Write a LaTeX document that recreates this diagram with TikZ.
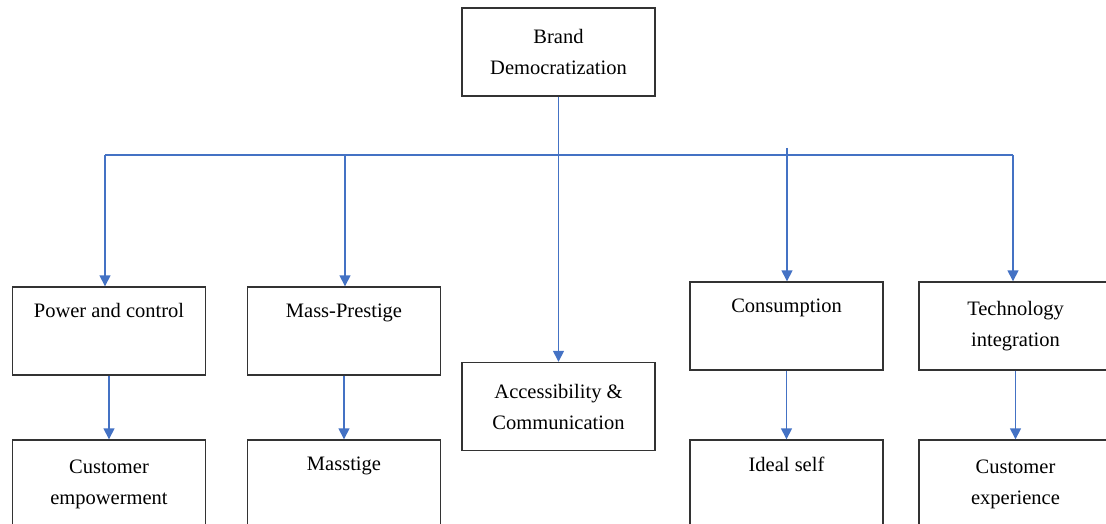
\documentclass[tikz,border=0pt]{standalone}
\usepackage{fontspec}
\setmainfont{Liberation Serif}
\usepackage{tikz}
\usetikzlibrary{arrows.meta}
\definecolor{linkblue}{RGB}{68,114,196}
\tikzset{box/.style={rectangle,draw=black!80,line width=1.4pt,minimum width=193pt,minimum height=88pt,inner sep=0pt,align=center,font=\fontsize{20.5}{31}\selectfont}}
\tikzset{link/.style={draw=linkblue,line width=1.5pt}}

\begin{document}
\begin{tikzpicture}[x=1pt,y=1pt,>={Triangle[width=11pt,length=11pt]}]
        \useasboundingbox (0,0) rectangle (1106,-524);
        \node[box] (bd) at (558.5,-52) {Brand\\Democratization};
        \node[box] (pc) at (109,-331) {Power and control\\\strut};
        \node[box] (mp) at (344,-331) {Mass-Prestige\\\strut};
        \node[box] (ac) at (558.5,-406.5) {Accessibility \&\\Communication};
        \node[box] (co) at (786.5,-326) {Consumption\\\strut};
        \node[box] (ti) at (1015.5,-326) {Technology\\integration};
        \node[box] (ce) at (109,-484) {Customer\\empowerment};
        \node[box] (ms) at (344,-484) {Masstige\\\strut};
        \node[box] (is) at (786.5,-484) {Ideal self\\\strut};
        \node[box] (cx) at (1015.5,-484) {Customer\\experience};

        \coordinate (busL) at (105,-155);
        \coordinate (busM) at (345,-155);
        \coordinate (busR) at (1013,-155);
        \coordinate (cotop) at (787,-148);

        \draw [link] (busL) -- (busR);
        \draw [link,->] (bd.south) -- (ac.north);
        \draw [link,->] (busL) -- (busL |- pc.north);
        \draw [link,->] (busM) -- (busM |- mp.north);
        \draw [link,->] (cotop) -- (cotop |- co.north);
        \draw [link,->] (busR) -- (busR |- ti.north);
        \draw [link,->] (pc.south) -- (ce.north);
        \draw [link,->] (mp.south) -- (ms.north);
        \draw [link,->] (co.south) -- (is.north);
        \draw [link,->] (ti.south) -- (cx.north);
    \end{tikzpicture}
\end{document}
